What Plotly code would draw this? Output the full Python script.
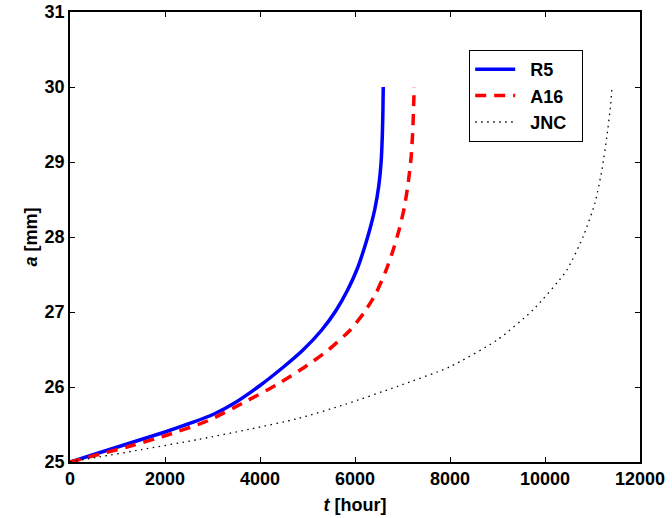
import plotly.graph_objects as go

# R5 series (t [hour], a [mm])
r5_t = [0, 500, 1000, 1500, 2000, 2500, 3000, 3500, 4000, 4500, 4900, 5300, 5600, 5850, 6050, 6200, 6320, 6420, 6500, 6550, 6575, 6588, 6595]
r5_a = [25.0, 25.10, 25.20, 25.30, 25.40, 25.51, 25.63, 25.80, 26.02, 26.27, 26.49, 26.76, 27.02, 27.30, 27.58, 27.86, 28.12, 28.38, 28.68, 29.00, 29.35, 29.70, 30.0]

# A16 series
a16_t = [0, 600, 1200, 2000, 2900, 3650, 4350, 5000, 5450, 5900, 6200, 6450, 6650, 6800, 6930, 7040, 7120, 7180, 7215, 7235, 7245]
a16_a = [25.0, 25.10, 25.20, 25.35, 25.55, 25.79, 26.03, 26.29, 26.50, 26.76, 27.00, 27.26, 27.55, 27.82, 28.10, 28.40, 28.72, 29.05, 29.40, 29.75, 30.0]

# JNC series
jnc_t = [0, 600, 1500, 2700, 3800, 4800, 5800, 6900, 8000, 9000, 9750, 10450, 10800, 11050, 11200, 11300, 11380, 11410]
jnc_a = [25.0, 25.065, 25.165, 25.30, 25.44, 25.58, 25.77, 26.01, 26.27, 26.63, 27.03, 27.55, 28.0, 28.45, 28.9, 29.33, 29.75, 30.0]

x_ticks = [0, 2000, 4000, 6000, 8000, 10000, 12000]
y_ticks = [25, 26, 27, 28, 29, 30, 31]

FONT = "Liberation Sans, Arial, Helvetica, sans-serif"

fig = go.Figure()
fig.add_trace(go.Scatter(x=r5_t, y=r5_a, mode="lines", name="&nbsp;&nbsp;<b>R5</b>&nbsp;&nbsp;",
                         line=dict(color="#0000ff", width=3.5, shape="spline", smoothing=0.6)))
fig.add_trace(go.Scatter(x=a16_t, y=a16_a, mode="lines", name="&nbsp;&nbsp;<b>A16</b>&nbsp;&nbsp;",
                         line=dict(color="#ff0000", width=3.5, dash="11px,8px", shape="spline", smoothing=0.6)))
fig.add_trace(go.Scatter(x=jnc_t, y=jnc_a, mode="lines", name="&nbsp;&nbsp;<b>JNC</b>&nbsp;&nbsp;",
                         line=dict(color="#000000", width=1.3, dash="1.5px,4.5px", shape="spline", smoothing=0.6)))

axis_common = dict(
    showgrid=False, zeroline=False, showline=True, linecolor="black", linewidth=1.5,
    mirror="ticks", ticks="inside", ticklen=5, tickcolor="black", tickwidth=1,
    tickfont=dict(family=FONT, size=18, color="black", weight="bold"),
    automargin=False,
)

fig.update_layout(
    width=672, height=518,
    margin=dict(l=70, r=32, t=12, b=56),
    paper_bgcolor="white", plot_bgcolor="white",
    font=dict(family=FONT, color="black"),
    xaxis=dict(range=[0, 12000], tickvals=x_ticks, ticktext=[str(v) for v in x_ticks],
               title=dict(text="<b><i>t</i> [hour]</b>", font=dict(family=FONT, size=18), standoff=10),
               **axis_common),
    yaxis=dict(range=[25, 31], tickvals=y_ticks, ticktext=[str(v) for v in y_ticks],
               title=dict(text="<b><i>a</i> [mm]</b>", font=dict(family=FONT, size=18), standoff=2),
               **axis_common),
    legend=dict(x=0.7, y=0.916, xanchor="left", yanchor="top",
                bordercolor="black", borderwidth=1.2, bgcolor="white",
                font=dict(family=FONT, size=18, color="black"),
                tracegroupgap=0, itemwidth=40),
    showlegend=True,
)

fig.write_html("out.html")
